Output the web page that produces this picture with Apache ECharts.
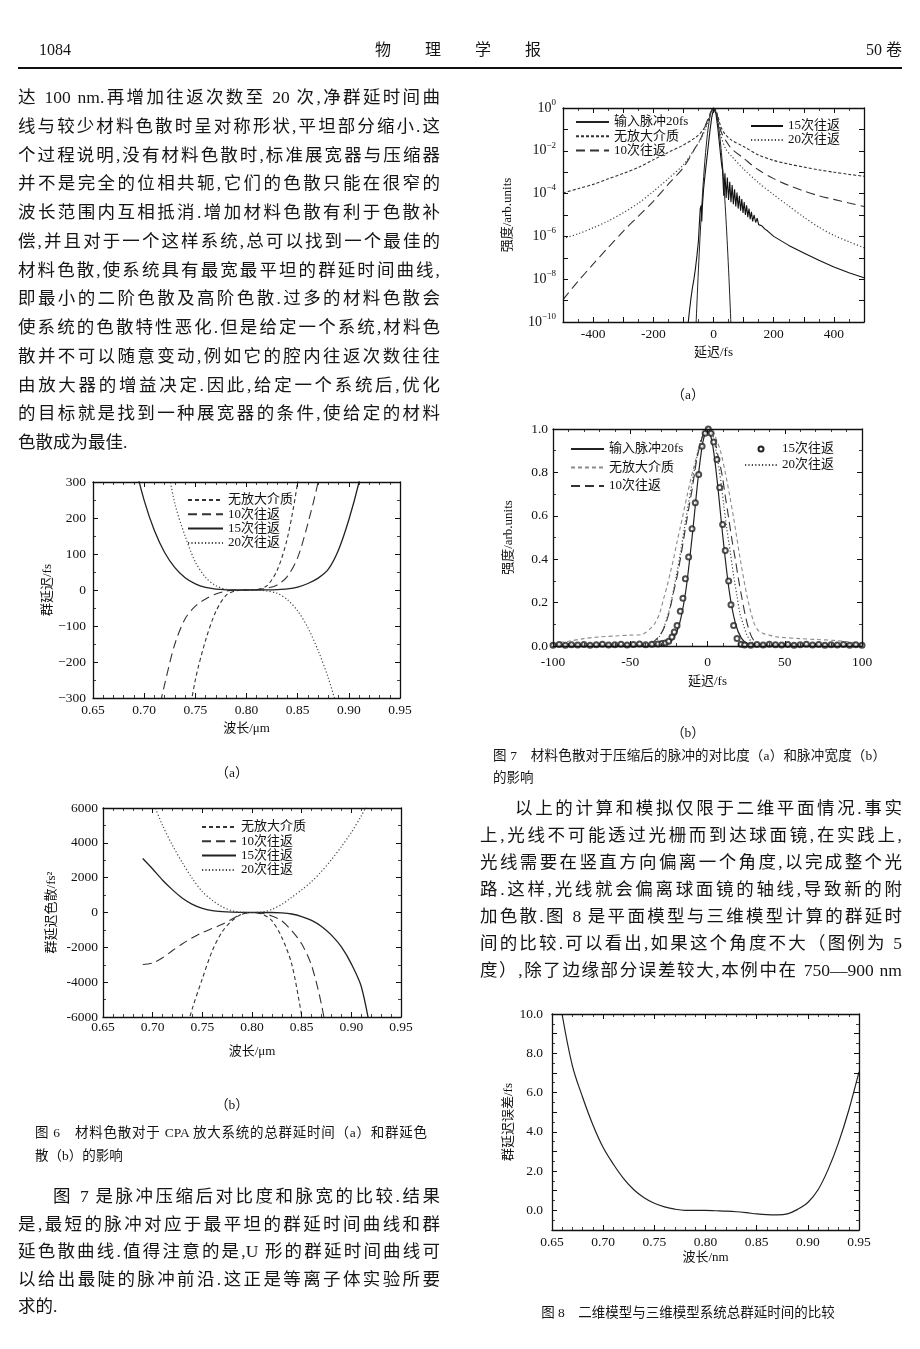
<!DOCTYPE html>
<html><head><meta charset="utf-8">
<script src="https://cdn.jsdelivr.net/npm/echarts@6/dist/echarts.min.js"></script>
<style>
html,body{margin:0;padding:0;background:#fff}
body{position:relative;width:920px;height:1349px;overflow:hidden}
#chart{position:absolute;left:0;top:0;width:920px;height:1349px}
.t{position:absolute;font-family:"Liberation Serif","Noto Sans CJK SC",serif;color:#151515;white-space:nowrap;line-height:20px;font-size:17.5px}
.j{text-align:justify;text-align-last:justify;white-space:normal}
.c{font-size:13.5px;line-height:16px}
.h{font-size:16px}
</style></head><body>
<div id="chart"></div>

<!-- header -->
<div class="t h" style="left:39px;top:40px">1084</div>
<div class="t h" style="left:375px;top:40px">物</div>
<div class="t h" style="left:425px;top:40px">理</div>
<div class="t h" style="left:475px;top:40px">学</div>
<div class="t h" style="left:525px;top:40px">报</div>
<div class="t h" style="left:866px;top:40px">50 卷</div>
<div style="position:absolute;left:18px;top:67px;width:884px;height:1.6px;background:#111"></div>

<!-- left column paragraph -->
<div class="t j" style="left:18px;top:87px;width:422px">达 100 nm.再增加往返次数至 20 次,净群延时间曲</div>
<div class="t j" style="left:18px;top:116px;width:422px">线与较少材料色散时呈对称形状,平坦部分缩小.这</div>
<div class="t j" style="left:18px;top:144.5px;width:422px">个过程说明,没有材料色散时,标准展宽器与压缩器</div>
<div class="t j" style="left:18px;top:173px;width:422px">并不是完全的位相共轭,它们的色散只能在很窄的</div>
<div class="t j" style="left:18px;top:202px;width:422px">波长范围内互相抵消.增加材料色散有利于色散补</div>
<div class="t j" style="left:18px;top:231px;width:422px">偿,并且对于一个这样系统,总可以找到一个最佳的</div>
<div class="t j" style="left:18px;top:259.5px;width:422px">材料色散,使系统具有最宽最平坦的群延时间曲线,</div>
<div class="t j" style="left:18px;top:288px;width:422px">即最小的二阶色散及高阶色散.过多的材料色散会</div>
<div class="t j" style="left:18px;top:317px;width:422px">使系统的色散特性恶化.但是给定一个系统,材料色</div>
<div class="t j" style="left:18px;top:346px;width:422px">散并不可以随意变动,例如它的腔内往返次数往往</div>
<div class="t j" style="left:18px;top:374.5px;width:422px">由放大器的增益决定.因此,给定一个系统后,优化</div>
<div class="t j" style="left:18px;top:403px;width:422px">的目标就是找到一种展宽器的条件,使给定的材料</div>
<div class="t" style="left:18px;top:432px">色散成为最佳.</div>

<!-- sub labels -->
<div class="t c" style="left:182px;top:765px;width:100px;text-align:center">（a）</div>
<div class="t c" style="left:182px;top:1097px;width:100px;text-align:center">（b）</div>
<div class="t c" style="left:638px;top:387px;width:100px;text-align:center">（a）</div>
<div class="t c" style="left:638px;top:725px;width:100px;text-align:center">（b）</div>

<!-- captions -->
<div class="t c j" style="left:35px;top:1125px;width:392px">图 6　材料色散对于 CPA 放大系统的总群延时间（a）和群延色</div>
<div class="t c" style="left:35px;top:1148px">散（b）的影响</div>
<div class="t c j" style="left:493px;top:748px;width:393px">图 7　材料色散对于压缩后的脉冲的对比度（a）和脉冲宽度（b）</div>
<div class="t c" style="left:493px;top:770px">的影响</div>
<div class="t c" style="left:477px;top:1305px;width:422px;text-align:center">图 8　二维模型与三维模型系统总群延时间的比较</div>

<!-- left bottom paragraph -->
<div class="t j" style="left:53px;top:1186px;width:387px">图 7 是脉冲压缩后对比度和脉宽的比较.结果</div>
<div class="t j" style="left:18px;top:1214px;width:422px">是,最短的脉冲对应于最平坦的群延时间曲线和群</div>
<div class="t j" style="left:18px;top:1241px;width:422px">延色散曲线.值得注意的是,U 形的群延时间曲线可</div>
<div class="t j" style="left:18px;top:1269px;width:422px">以给出最陡的脉冲前沿.这正是等离子体实验所要</div>
<div class="t" style="left:18px;top:1296px">求的.</div>

<!-- right paragraph -->
<div class="t j" style="left:515px;top:798px;width:387px">以上的计算和模拟仅限于二维平面情况.事实</div>
<div class="t j" style="left:480px;top:825px;width:422px">上,光线不可能透过光栅而到达球面镜,在实践上,</div>
<div class="t j" style="left:480px;top:852px;width:422px">光线需要在竖直方向偏离一个角度,以完成整个光</div>
<div class="t j" style="left:480px;top:879px;width:422px">路.这样,光线就会偏离球面镜的轴线,导致新的附</div>
<div class="t j" style="left:480px;top:906px;width:422px">加色散.图 8 是平面模型与三维模型计算的群延时</div>
<div class="t j" style="left:480px;top:933px;width:422px">间的比较.可以看出,如果这个角度不大（图例为 5</div>
<div class="t j" style="left:480px;top:960px;width:422px">度）,除了边缘部分误差较大,本例中在 750—900 nm</div>

<script>
// ================= DATA =================
// Fig 6(a): group delay (fs) vs wavelength (um)
const f6aX      = [0.68,0.69,0.70,0.71,0.72,0.73,0.74,0.75,0.76,0.77,0.78,0.79,0.80,0.81,0.82,0.83,0.84,0.85,0.86,0.87,0.88,0.89,0.90,0.91,0.92];
const f6aNoGain = [null,null,null,null,null,-700,-420,-250,-140,-60,-15,-2,0,1,12,55,145,300,520,null,null,null,null,null,null];
const f6a10     = [null,null,null,-390,-262,-150,-80,-45,-25,-11,-3,0,0,1,5,14,38,90,185,300,450,null,null,null,null];
const f6a15     = [509,362,249,165,104,62,34,17,7,2.4,0.5,0,0,0,0.2,1,3,8,18,33,58,112,195,300,430];
const f6a20     = [null,null,null,560,390,240,150,78,35,12,2,0,0,0,-3,-9,-27,-58,-105,-168,-245,-340,null,null,null];

// Fig 6(b): group delay dispersion (fs^2) vs wavelength (um)
const f6bX      = [0.69,0.70,0.71,0.72,0.73,0.74,0.75,0.76,0.77,0.78,0.79,0.80,0.81,0.82,0.83,0.84,0.85,0.86,0.87,0.88,0.89,0.90,0.91,0.92];
const f6bNoGain = [null,null,null,null,-7500,-5500,-3800,-2200,-1100,-470,-86,0,-86,-470,-1430,-2966,-5900,-9000,null,null,null,null,null,null];
const f6b10     = [-2990,-2900,-2600,-2180,-1790,-1450,-1150,-920,-680,-374,-100,0,-40,-200,-480,-1046,-1800,-3050,-5300,-8500,null,null,null,null];
const f6b15     = [3100,2500,1850,1300,820,470,240,110,50,20,8,0,0,0,-20,-86,-230,-450,-800,-1300,-1980,-2950,-4250,-7000];
const f6b20     = [8000,6400,5000,3850,2850,1950,1200,700,330,106,10,0,20,180,470,873,1300,1780,2360,3030,3780,4600,5550,6600];

// Fig 7(a): log10(intensity) vs delay (fs)
const a7InX  = [-60,-58,-55,-50,-45,-40,-35,-30,-25,-20,-15,-10,-5,0,5,10,15,20,25,30,35,40,45,50,55,58,60];
const a7In   = [-10.84,-10.13,-9.11,-7.53,-6.10,-4.82,-3.69,-2.71,-1.88,-1.20,-0.68,-0.30,-0.075,0,-0.075,-0.30,-0.68,-1.20,-1.88,-2.71,-3.69,-4.82,-6.10,-7.53,-9.11,-10.13,-10.84];
const a7WX   = [-500,-450,-400,-350,-300,-250,-200,-150,-100,-60,-40,-25,-15,-8,0,8,15,25,40,60,100,150,200,250,300,350,400,450,500];
const a7NoGain = [-3.97,-3.77,-3.57,-3.31,-3.06,-2.78,-2.42,-2.07,-1.73,-1.38,-1.12,-0.8,-0.45,-0.18,0,-0.12,-0.4,-0.9,-1.25,-1.5,-1.8,-2.2,-2.45,-2.62,-2.76,-2.89,-3.0,-3.1,-3.19];
const a7R10  = [-8.95,-8.1,-7.3,-6.52,-5.76,-5.06,-4.36,-3.56,-2.78,-1.85,-1.35,-0.75,-0.4,-0.15,0,-0.15,-0.5,-1.1,-1.5,-1.9,-2.35,-2.9,-3.3,-3.62,-3.88,-4.1,-4.27,-4.44,-4.6];
const a7R20  = [-6.1,-5.88,-5.6,-5.28,-4.9,-4.45,-3.9,-3.3,-2.65,-1.85,-1.4,-0.9,-0.5,-0.2,0,-0.2,-0.6,-1.3,-1.9,-2.25,-2.85,-3.5,-4.05,-4.58,-5.1,-5.57,-5.95,-6.25,-6.53];
const a7R15X = [-86,-80,-75,-70,-65,-60,-55,-50,-47,-44,-41,-39,-37,-33,-28,-20,-12,-6,0,3,8,14,20,25,28,30,34,38,42,46,50,54,58,62,66,70,74,78,82,86,90,94,98,102,106,110,114,118,122,126,130,135,140,145,150,160,170,180,200,250,300,350,400,450,500];
const a7R15  = [-10.3,-9.5,-8.9,-8.4,-8.0,-7.5,-6.9,-6.2,-5.4,-4.7,-4.55,-5.3,-4.6,-3.8,-3.1,-2.1,-1.1,-0.45,-0.05,0,-0.25,-0.9,-1.7,-2.4,-2.75,-2.9,-4.1,-3.05,-4.2,-3.25,-4.3,-3.45,-4.4,-3.6,-4.5,-3.8,-4.6,-3.95,-4.7,-4.1,-4.8,-4.25,-4.9,-4.4,-5.0,-4.55,-5.1,-4.7,-5.2,-4.85,-5.3,-5.0,-5.35,-5.15,-5.45,-5.5,-5.65,-5.75,-6.0,-6.42,-6.78,-7.12,-7.43,-7.7,-7.93];

// Fig 7(b): intensity (arb. units) vs delay (fs)
const b7InX = [-100,-60,-40,-30,-26,-22,-18,-14,-10,-6,-3,0,3,6,10,14,18,22,26,30,40,60,100];
const b7In  = [0.004,0.004,0.004,0.006,0.011,0.035,0.106,0.257,0.5,0.779,0.94,1.0,0.94,0.779,0.5,0.257,0.106,0.035,0.011,0.006,0.004,0.004,0.004];
const b7NoGainX = [-100,-90,-80,-70,-60,-50,-43,-40,-37,-34,-31,-28.4,-26,-24,-22,-19.7,-17.5,-15.4,-13,-11.1,-9,-6.8,-3.6,-1.4,1.5,4,8.3,12.6,16.9,21.2,25.6,29.9,33,36.4,40,45,60,70,81.6,90,100];
const b7NoGain  = [0.011,0.022,0.034,0.042,0.046,0.05,0.052,0.062,0.08,0.105,0.15,0.218,0.28,0.34,0.4,0.48,0.55,0.62,0.7,0.76,0.82,0.88,0.957,1.0,0.995,0.98,0.9,0.76,0.59,0.4,0.23,0.11,0.07,0.057,0.05,0.042,0.034,0.03,0.026,0.02,0.011];
const b7R10X = [-100,-60,-45,-41,-36,-32.7,-29,-26,-24,-21.9,-19.7,-17.6,-15.5,-13.3,-11.5,-10,-8.5,-6.8,-3.6,-1,1.5,3,5,7,9.4,11.5,13.7,15.8,18,20,22.3,24.5,26.6,28.7,31,34,40,60,100];
const b7R10  = [0.004,0.005,0.005,0.006,0.015,0.034,0.07,0.126,0.18,0.25,0.32,0.4,0.49,0.585,0.66,0.72,0.79,0.865,0.957,0.995,0.995,0.975,0.94,0.87,0.79,0.69,0.59,0.49,0.4,0.31,0.22,0.14,0.08,0.04,0.018,0.008,0.005,0.005,0.004];
const b7R15X = [-100,-96,-92,-88,-84,-80,-76,-72,-68,-64,-60,-56,-52,-48,-44,-40,-36,-32,-29.5,-27.3,-25.1,-23,-21.5,-19.7,-17.6,-15.9,-14.3,-12.2,-10,-7.9,-5.7,-3.5,-1.5,0.5,2.3,4,6.1,7.9,9.8,11.5,13.7,15.2,16.9,19.1,21.7,24,28,32,36,40,44,48,52,56,60,64,68,72,76,80,84,88,92,96,100];
const b7R15  = [0.004,0.007,0.004,0.006,0.005,0.007,0.004,0.006,0.008,0.005,0.006,0.008,0.005,0.007,0.009,0.006,0.008,0.009,0.011,0.014,0.022,0.042,0.065,0.095,0.16,0.22,0.31,0.41,0.54,0.66,0.79,0.92,0.98,1.0,0.98,0.94,0.86,0.73,0.56,0.44,0.3,0.19,0.095,0.034,0.008,0.005,0.004,0.007,0.005,0.008,0.006,0.005,0.007,0.004,0.006,0.008,0.005,0.007,0.004,0.006,0.005,0.007,0.004,0.006,0.004];
const b7R20X = [-100,-45,-38,-34,-31,-28,-25,-22.5,-20,-17.5,-15,-12.5,-10,-7.5,-5,-2.5,0,2,4,5.5,7.2,9,10.5,12.5,14.8,17,19.1,21,23.4,25.5,27.7,30,35,100];
const b7R20  = [0.004,0.005,0.008,0.02,0.045,0.09,0.16,0.24,0.33,0.43,0.54,0.65,0.75,0.85,0.93,0.98,1.0,0.99,0.957,0.9,0.83,0.74,0.65,0.54,0.43,0.32,0.23,0.15,0.095,0.05,0.026,0.012,0.005,0.004];

// Fig 8: group delay error (fs) vs wavelength
const f8X   = [0.66,0.67,0.68,0.69,0.70,0.71,0.72,0.73,0.74,0.75,0.76,0.77,0.78,0.79,0.80,0.81,0.82,0.83,0.84,0.85,0.86,0.87,0.88,0.89,0.90,0.91,0.92,0.93,0.94,0.95];
const f8Err = [9.95,7.35,5.75,4.35,3.2,2.35,1.62,1.05,0.64,0.36,0.18,0.06,0.0,0.0,0.0,-0.02,-0.04,-0.07,-0.12,-0.18,-0.22,-0.23,-0.18,0.05,0.4,1.05,2.1,3.45,5.1,7.05];

// ================= CHART =================
const SERIF = '"Liberation Serif","Noto Sans CJK SC",serif';
const INK = '#111';
function pairs(xs, ys){ const o=[]; for(let i=0;i<xs.length;i++){ if(ys[i]!==null && ys[i]!==undefined) o.push([xs[i], ys[i]]); } return o; }

const grids = [
  {left:93,  top:482,  width:307, height:216},
  {left:103, top:808,  width:298, height:209},
  {left:563, top:108,  width:301, height:214},
  {left:553, top:429,  width:309, height:217},
  {left:552, top:1014, width:307, height:216}
];
const xAxes=[], yAxes=[];
function axisBase(gi, pos, c, main){
  return {
    type:'value', gridIndex:gi, position:pos, min:c.min, max:c.max, interval:c.interval,
    axisLine:{show:true,onZero:false,lineStyle:{color:INK,width:1.3}},
    axisTick:{show:true,inside:true,length:5,lineStyle:{color:INK,width:1}},
    minorTick:{show:!!c.minor,splitNumber:c.minor||2,length:3,lineStyle:{color:INK,width:0.8}},
    splitLine:{show:false}, minorSplitLine:{show:false},
    axisLabel: main ? {show:true,margin:c.margin,fontSize:13.5,fontFamily:SERIF,color:INK,formatter:c.fmt,rich:c.rich} : {show:false},
    name: main ? c.name : '', nameLocation:'middle', nameGap:c.nameGap||20,
    nameTextStyle:{fontSize:13,fontFamily:SERIF,color:INK},
    z:5
  };
}
function addGrid(gi, xc, yc){
  xAxes.push(axisBase(gi,'bottom',xc,true), axisBase(gi,'top',xc,false));
  yAxes.push(axisBase(gi,'left',yc,true), axisBase(gi,'right',yc,false));
}
const f2 = v => v.toFixed(2);
const minus = v => String(v).replace('-', '−');

addGrid(0, {min:0.65,max:0.95,interval:0.05,minor:5,margin:5.5,fmt:f2,name:'波长/μm',nameGap:24},
           {min:-300,max:300,interval:100,minor:2,margin:7,fmt:minus,name:'群延迟/fs',nameGap:39});
addGrid(1, {min:0.65,max:0.95,interval:0.05,minor:5,margin:3.5,fmt:f2,name:'波长/μm',nameGap:28},
           {min:-6000,max:6000,interval:2000,minor:2,margin:5,fmt:v=>String(v),name:'群延迟色散/fs²',nameGap:45});
addGrid(2, {min:-500,max:500,interval:100,minor:2,margin:5.5,fmt:v=>(Math.abs(v)<500 && v%200===0)?String(v):'',name:'延迟/fs',nameGap:24},
           {min:-10,max:0,interval:1,margin:7,
            fmt:v=>(v%2===0)?('{b|10}{s|'+(v===0?'0':'−'+(-v))+'}'):'',
            rich:{b:{fontSize:14,fontFamily:SERIF,color:INK,lineHeight:20},s:{fontSize:9,fontFamily:SERIF,color:INK,verticalAlign:'top',lineHeight:10}},
            name:'强度/arb.units',nameGap:49});
addGrid(3, {min:-100,max:100,interval:50,minor:5,margin:9.5,fmt:v=>String(v),name:'延迟/fs',nameGap:29},
           {min:0,max:1,interval:0.2,minor:2,margin:5,fmt:v=>v.toFixed(1),name:'强度/arb.units',nameGap:38});
addGrid(4, {min:0.65,max:0.95,interval:0.05,minor:5,margin:5.5,fmt:f2,name:'波长/nm',nameGap:21},
           {min:-1,max:10,interval:1,minor:2,margin:9,fmt:v=>(v>=0 && v%2===0)?v.toFixed(1):'',name:'群延迟误差/fs',nameGap:37});

const SHORT=[4,3], LONG=[9,5], DOT=[1.2,2.2], DENSE=[3,2];
function lineS(name, gi, xs, ys, color, type, width, smooth){
  return {type:'line', name:name, xAxisIndex:2*gi, yAxisIndex:2*gi, data:pairs(xs,ys),
    showSymbol:false, symbol:'none', smooth:smooth, clip:true, silent:true, z:3,
    lineStyle:{color:color,type:type,width:width}, itemStyle:{color:color}};
}
const series = [
  lineS('无放大介质#6a',0,f6aX,f6aNoGain,'#333',SHORT,1.1,0.3),
  lineS('10次往返#6a',0,f6aX,f6a10,'#333',LONG,1.1,0.3),
  lineS('15次往返#6a',0,f6aX,f6a15,'#222','solid',1.3,0.3),
  lineS('20次往返#6a',0,f6aX,f6a20,'#444',DOT,1.2,0.3),

  lineS('无放大介质#6b',1,f6bX,f6bNoGain,'#333',SHORT,1.1,0.3),
  lineS('10次往返#6b',1,f6bX,f6b10,'#333',LONG,1.1,0.3),
  lineS('15次往返#6b',1,f6bX,f6b15,'#222','solid',1.3,0.3),
  lineS('20次往返#6b',1,f6bX,f6b20,'#444',DOT,1.2,0.3),

  lineS('输入脉冲20fs#7a',2,a7InX,a7In,'#222','solid',1,0.3),
  lineS('无放大介质#7a',2,a7WX,a7NoGain,'#333',DENSE,1.1,0.3),
  lineS('10次往返#7a',2,a7WX,a7R10,'#333',LONG,1.1,0.3),
  lineS('15次往返#7a',2,a7R15X,a7R15,'#111','solid',1.1,false),
  lineS('20次往返#7a',2,a7WX,a7R20,'#444',DOT,1.2,0.3),

  lineS('输入脉冲20fs#7b',3,b7InX,b7In,'#222','solid',1.2,0.3),
  lineS('无放大介质#7b',3,b7NoGainX,b7NoGain,'#8a8a8a',SHORT,1.1,0.3),
  lineS('10次往返#7b',3,b7R10X,b7R10,'#333',LONG,1.1,0.3),
  {type:'scatter', name:'15次往返#7b', xAxisIndex:6, yAxisIndex:6, data:pairs(b7R15X,b7R15),
   symbol:'emptyCircle', symbolSize:5, itemStyle:{color:'#222',borderColor:'#222',borderWidth:1}, silent:true, z:4},
  lineS('20次往返#7b',3,b7R20X,b7R20,'#444',DOT,1.2,0.3),

  lineS('误差#8',4,f8X,f8Err,'#222','solid',1.2,0.35)
];

function legendL(names, left, top, gap, iw, ih){
  return {show:true, orient:'vertical', left:left, top:top, itemGap:gap, itemWidth:iw, itemHeight:ih||8, padding:0,
    data:names.map(n => typeof n === 'string' ? {name:n} : n), selectedMode:false, formatter:n=>n.split('#')[0],
    itemStyle:{opacity:0},
    textStyle:{fontSize:13,fontFamily:SERIF,color:INK,lineHeight:14}};
}
const legends = [
  legendL(['无放大介质#6a','10次往返#6a','15次往返#6a','20次往返#6a'],187,493,0.3,35),
  legendL(['无放大介质#6b','10次往返#6b','15次往返#6b','20次往返#6b'],201,820,0.3,34),
  legendL(['输入脉冲20fs#7a','无放大介质#7a','10次往返#7a'],575,115,0.3,33),
  legendL(['15次往返#7a','20次往返#7a'],750,119,0,32),
  legendL(['输入脉冲20fs#7b','无放大介质#7b','10次往返#7b'],570,442,4.5,33),
  legendL([{name:'15次往返#7b',itemStyle:{opacity:1}},'20次往返#7b'],744,442,2,32,5)
];

const chart = echarts.init(document.getElementById('chart'), null, {renderer:'canvas'});
chart.setOption({
  animation:false,
  backgroundColor:'#fff',
  textStyle:{fontFamily:SERIF},
  grid:grids,
  xAxis:xAxes,
  yAxis:yAxes,
  legend:legends,
  series:series
});
</script>
</body></html>
